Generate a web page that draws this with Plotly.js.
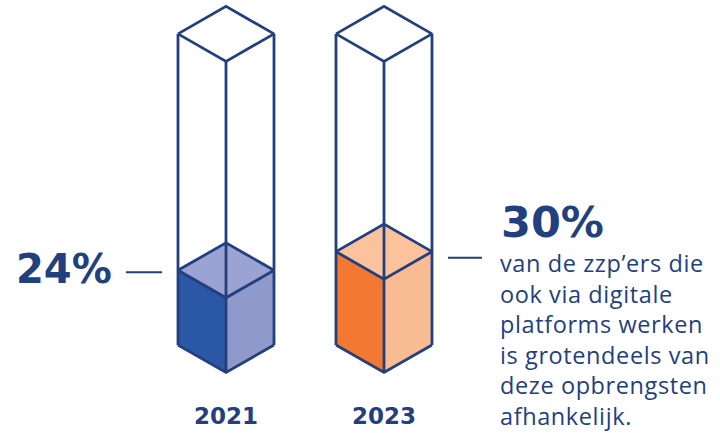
<!DOCTYPE html>
<html>
<head>
<meta charset="utf-8">
<script src="https://cdn.plot.ly/plotly-3.0.1.min.js"></script>
<style>html,body{margin:0;padding:0;background:#fff;}#chart{width:720px;height:433px;}
.note-text{letter-spacing:0.6px;}</style>
</head>
<body>
<div id="chart"></div>
<script>
// ---- data ----
const years = ["2021", "2023"];
const values = [24, 30];             // percentage filled
const valueLabels = ["24%", "30%"];
const fullScale = 100;
const noteLines = ["van de zzp’ers die", "ook via digitale", "platforms werken", "is grotendeels van", "deze opbrengsten", "afhankelijk."];

// ---- style ----
const navy = "#223f7e";
const frontColors = ["#2b58a6", "#f37831"];
const sideColors = ["#8f99cb", "#f9bb91"];
const topColors = ["#9ba3d2", "#fbc29b"];

const W = 720, H = 433;
const firstCenter = 226, spacing = 158, halfW = 48;   // x axis in pixel-like units
const depth = 8.84;                                  // iso depth in value units
const yRange = [-28.3, 110.9];

const traces = [];
years.forEach((yr, i) => {
  const c = firstCenter + i * spacing;
  const v = values[i];
  // front-left face
  traces.push({x:[c-halfW, c, c, c-halfW, c-halfW], y:[0, -depth, v-depth, v, 0],
    mode:"lines", fill:"toself", fillcolor:frontColors[i], line:{width:0}, hoverinfo:"skip"});
  // right face
  traces.push({x:[c, c+halfW, c+halfW, c, c], y:[-depth, 0, v, v-depth, -depth],
    mode:"lines", fill:"toself", fillcolor:sideColors[i], line:{width:0}, hoverinfo:"skip"});
  // top of fill
  traces.push({x:[c-halfW, c, c+halfW, c, c-halfW], y:[v, v+depth, v, v-depth, v],
    mode:"lines", fill:"toself", fillcolor:topColors[i], line:{width:0}, hoverinfo:"skip"});
  // wireframe
  const T = fullScale;
  const xs = [c-halfW, c-halfW, null, c+halfW, c+halfW, null, c, c, null,
              c-halfW, c, c+halfW, c, c-halfW, null,
              c-halfW, c, c+halfW, null,
              c-halfW, c, c+halfW, c, c-halfW];
  const ys = [0, T, null, 0, T, null, -depth, T-depth, null,
              T, T+depth, T, T-depth, T, null,
              0, -depth, 0, null,
              v, v+depth, v, v-depth, v];
  traces.push({x:xs, y:ys, mode:"lines", line:{color:navy, width:2.8}, hoverinfo:"skip", connectgaps:false});
});

const px = x => x / W;
const py = y => 1 - y / H;

const annotations = [];
// year labels
years.forEach((yr, i) => {
  annotations.push({x: firstCenter + i*spacing, xref:"x", y: py(416), yref:"paper",
    text:"<b>"+yr+"</b>", showarrow:false, xanchor:"center", yanchor:"middle",
    font:{family:"DejaVu Sans", size:23, color:navy}});
});
// value labels
annotations.push({x: px(14), xref:"paper", y: values[0], yref:"y", text:"<b>"+valueLabels[0]+"</b>",
  showarrow:false, xanchor:"left", yanchor:"middle", yshift:1, font:{family:"DejaVu Sans", size:40, color:navy}});
annotations.push({x: px(499), xref:"paper", y: py(222), yref:"paper", text:"<b>"+valueLabels[1]+"</b>",
  showarrow:false, xanchor:"left", yanchor:"middle", font:{family:"DejaVu Sans", size:43, color:navy}});
// note text (one block)
annotations.push({x: px(499), xref:"paper", y: py(339), yref:"paper", text: noteLines.join("<br>"),
  showarrow:false, xanchor:"left", yanchor:"middle", align:"left", borderpad:0,
  font:{family:"Open Sans", size:23.5, color:navy}});

const shapes = [
  {type:"line", xref:"x", yref:"y", x0:126, x1:162, y0:values[0]-0.6, y1:values[0]-0.6, line:{color:navy, width:2}},
  {type:"line", xref:"x", yref:"y", x0:448, x1:482, y0:values[1]-2, y1:values[1]-2, line:{color:navy, width:2}}
];

const layout = {
  width: W, height: H,
  margin:{l:0, r:0, t:0, b:0},
  paper_bgcolor:"#ffffff", plot_bgcolor:"#ffffff",
  showlegend:false, hovermode:false,
  xaxis:{range:[0, W], visible:false, fixedrange:true},
  yaxis:{range:yRange, visible:false, fixedrange:true},
  annotations, shapes
};

Plotly.newPlot("chart", traces, layout, {displayModeBar:false, staticPlot:true}).then(() => {
  const anns = document.querySelectorAll(".annotation-text");
  anns[anns.length - 1].classList.add("note-text");
});
</script>
</body>
</html>
